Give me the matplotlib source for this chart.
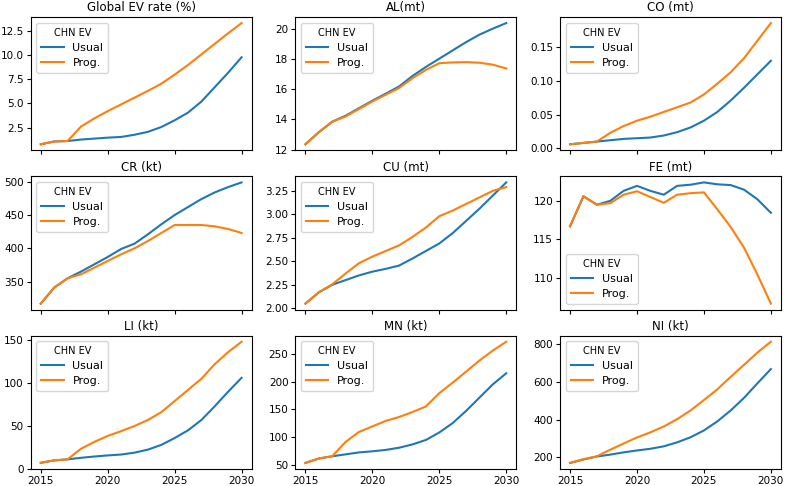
import matplotlib
matplotlib.use("Agg")
import matplotlib.pyplot as plt
import numpy as np

years = list(range(2015, 2031))

titles = ["Global EV rate (%)", "AL(mt)", "CO (mt)", "CR (kt)", "CU (mt)",
          "FE (mt)", "LI (kt)", "MN (kt)", "NI (kt)"]

ev_usual = [0.76, 1.05, 1.1, 1.25, 1.35, 1.45, 1.52, 1.75, 2.05, 2.55, 3.25, 4.05, 5.2, 6.7, 8.2, 9.8]
ev_prog = [0.76, 1.05, 1.1, 2.6, 3.45, 4.2, 4.9, 5.6, 6.3, 7.05, 8.0, 9.0, 10.1, 11.2, 12.3, 13.35]

al_usual = [12.35, 13.15, 13.85, 14.25, 14.75, 15.25, 15.72, 16.2, 16.9, 17.5, 18.05, 18.6, 19.15, 19.65, 20.05, 20.42]
al_prog = [12.35, 13.15, 13.85, 14.2, 14.7, 15.2, 15.65, 16.1, 16.75, 17.3, 17.75, 17.8, 17.82, 17.78, 17.65, 17.4]

co_usual = [0.006, 0.008, 0.010, 0.012, 0.014, 0.015, 0.016, 0.019, 0.024, 0.031, 0.041, 0.054, 0.071, 0.090, 0.110, 0.130]
co_prog = [0.006, 0.008, 0.010, 0.023, 0.033, 0.041, 0.047, 0.054, 0.061, 0.068, 0.080, 0.096, 0.113, 0.134, 0.160, 0.186]

cr_usual = [317, 341, 355, 365, 376, 387, 399, 407, 421, 436, 450, 462, 474, 484, 492, 499]
cr_prog = [317, 341, 355, 361, 371, 381, 391, 400, 411, 423, 435, 435, 435, 433, 429, 423]

cu_usual = [2.05, 2.17, 2.25, 2.30, 2.35, 2.39, 2.42, 2.455, 2.53, 2.61, 2.69, 2.80, 2.93, 3.06, 3.20, 3.34]
cu_prog = [2.05, 2.17, 2.255, 2.37, 2.48, 2.55, 2.61, 2.67, 2.76, 2.86, 2.98, 3.04, 3.11, 3.18, 3.25, 3.29]

fe_usual = [116.7, 120.6, 119.5, 120.0, 121.3, 121.95, 121.3, 120.8, 121.95, 122.1, 122.4, 122.15, 122.05, 121.45, 120.2, 118.45]
fe_prog = [116.7, 120.6, 119.5, 119.7, 120.8, 121.25, 120.5, 119.75, 120.8, 121.0, 121.1, 118.9, 116.6, 113.9, 110.4, 106.65]

li_usual = [7.2, 10.0, 11.2, 13, 14.5, 15.8, 16.8, 19, 22.5, 28, 36, 45, 57, 73, 90, 106]
li_prog = [7.2, 10.0, 11.2, 23.5, 31.5, 38.5, 44, 50, 57, 66, 79, 92, 105, 122, 136, 148]

mn_usual = [53, 61, 65, 68.5, 72, 74, 76.5, 80.5, 86.5, 94.5, 108, 125, 147, 171, 195, 215]
mn_prog = [53, 61, 65, 91, 109, 119, 129, 136, 145, 155, 179, 198, 218, 238, 256, 272]

ni_usual = [170, 188, 204, 214, 226, 236, 245, 258, 279, 306, 342, 390, 448, 515, 592, 667]
ni_prog = [170, 190, 205, 240, 273, 305, 332, 363, 402, 448, 503, 560, 626, 690, 755, 812]

usual = [ev_usual, al_usual, co_usual, cr_usual, cu_usual, fe_usual, li_usual, mn_usual, ni_usual]
prog = [ev_prog, al_prog, co_prog, cr_prog, cu_prog, fe_prog, li_prog, mn_prog, ni_prog]

fig, axes = plt.subplots(3, 3, figsize=(7.88, 4.86), dpi=100, sharex=True)
fig.subplots_adjust(left=0.039, right=0.991, top=0.965, bottom=0.035,
                    wspace=0.198, hspace=0.195)

for i, ax in enumerate(axes.flat):
    ax.plot(years, usual[i], color="#1f77b4", lw=1.5, label="Usual")
    ax.plot(years, prog[i], color="#ff7f0e", lw=1.5, label="Prog.")
    ax.set_title(titles[i], fontsize=8.5, pad=4)
    ax.tick_params(labelsize=7.5, length=3, pad=2)
    loc = "lower left" if titles[i].startswith("FE") else "upper left"
    ax.legend(title="CHN EV", loc=loc, fontsize=8, title_fontsize=7,
              handlelength=2.0, borderpad=0.45, labelspacing=0.45)

axes[0, 2].set_yticks([0.0, 0.05, 0.10, 0.15])
axes[2, 0].set_yticks([0, 50, 100, 150])
axes[2, 0].set_xticks([2015, 2020, 2025, 2030])

fig.savefig("out.png", dpi=100)
